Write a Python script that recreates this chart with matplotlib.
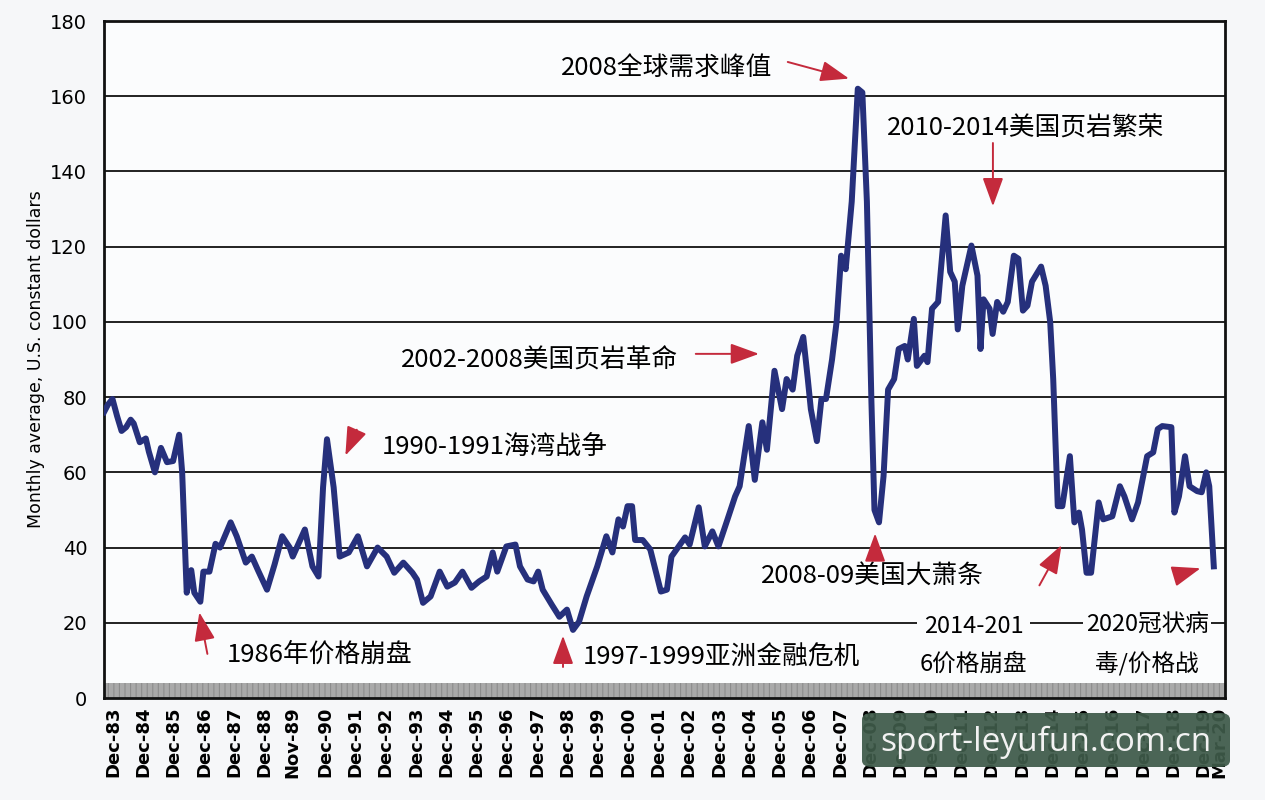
import numpy as np
import matplotlib.pyplot as plt
from matplotlib.patches import FancyBboxPatch
from matplotlib.transforms import ScaledTranslation

# monthly average oil price (fractional year, constant $)
years = [1983.62, 1983.75, 1983.90, 1984.05, 1984.20, 1984.35, 1984.50, 1984.60, 1984.80, 1985.00,
         1985.10, 1985.30, 1985.50, 1985.70, 1985.90, 1986.10, 1986.20, 1986.35, 1986.50, 1986.60,
         1986.80, 1986.90, 1987.10, 1987.30, 1987.45, 1987.80, 1988.00, 1988.30, 1988.50, 1988.70,
         1989.00, 1989.25, 1989.50, 1989.75, 1989.85, 1990.25, 1990.50, 1990.70, 1990.85, 1990.98,
         1991.20, 1991.40, 1991.70, 1992.00, 1992.30, 1992.65, 1992.95, 1993.20, 1993.50, 1993.80,
         1993.95, 1994.15, 1994.40, 1994.70, 1994.95, 1995.20, 1995.45, 1995.75, 1996.00, 1996.25,
         1996.45, 1996.60, 1996.90, 1997.20, 1997.35, 1997.60, 1997.80, 1997.95, 1998.10, 1998.40,
         1998.65, 1998.90, 1999.10, 1999.30, 1999.55, 1999.90, 2000.20, 2000.40, 2000.60, 2000.75,
         2000.90, 2001.05, 2001.15, 2001.40, 2001.65, 2002.00, 2002.20, 2002.35, 2002.80, 2002.95,
         2003.25, 2003.45, 2003.70, 2003.90, 2004.20, 2004.45, 2004.60, 2004.90, 2005.10, 2005.35,
         2005.50, 2005.75, 2006.00, 2006.15, 2006.35, 2006.50, 2006.70, 2006.85, 2006.95, 2007.15,
         2007.30, 2007.45, 2007.65, 2007.80, 2007.95, 2008.10, 2008.30, 2008.50, 2008.65, 2008.80,
         2008.95, 2009.05, 2009.20, 2009.35, 2009.50, 2009.70, 2009.85, 2010.05, 2010.15, 2010.35,
         2010.45, 2010.70, 2010.80, 2010.95, 2011.15, 2011.40, 2011.55, 2011.70, 2011.80, 2011.95,
         2012.25, 2012.45, 2012.55, 2012.65, 2012.85, 2012.95, 2013.10, 2013.30, 2013.45, 2013.65,
         2013.80, 2013.95, 2014.10, 2014.25, 2014.55, 2014.70, 2014.85, 2014.95, 2015.05, 2015.10,
         2015.25, 2015.50, 2015.65, 2015.80, 2015.90, 2016.05, 2016.20, 2016.45, 2016.60, 2016.90,
         2017.15, 2017.30, 2017.55, 2017.75, 2018.05, 2018.25, 2018.40, 2018.55, 2018.85, 2018.95,
         2019.10, 2019.30, 2019.45, 2019.70, 2019.85, 2020.00, 2020.10, 2020.25]
prices = [76, 78, 79.5, 75, 71, 72, 74, 73, 68, 69,
          65.5, 60, 66.5, 62.7, 63, 70, 60, 28, 34, 28,
          25.6, 33.6, 33.6, 41, 40, 46.7, 43, 36, 37.6, 34,
          28.8, 35.5, 43, 40, 37.6, 44.8, 35, 32.3, 56, 68.8,
          56, 37.6, 38.7, 43, 35, 40, 37.6, 33.3, 36, 33.3,
          31.5, 25.3, 27, 33.6, 29.6, 30.7, 33.6, 29.3, 31, 32.3,
          38.7, 33.6, 40.3, 40.8, 35, 31.5, 31, 33.6, 28.8, 24.8,
          21.6, 23.5, 18.1, 20.3, 27, 35, 43, 38.7, 47.5, 45.6,
          51, 51, 42, 42, 39.5, 28.3, 28.8, 37.6, 42.7, 40.8,
          50.7, 40.3, 44.3, 40.3, 47.5, 53.6, 56.3, 72.3, 58, 73.3,
          66, 87, 76.8, 84.8, 82, 91, 96, 84.8, 76.8, 68.3,
          79.5, 79.5, 90, 100, 117.6, 114, 132, 162, 161, 132,
          78.7, 50, 46.7, 59, 82, 84.8, 92.8, 93.6, 90, 100.8,
          88.3, 91, 89.3, 103.5, 105.3, 128.3, 113.3, 110.7, 98, 109.6,
          120.3, 112.3, 92.8, 106, 103.5, 96.8, 105.3, 102.7, 105.3, 117.6,
          116.8, 103, 104.3, 110.7, 114.7, 109.6, 100, 84.8, 62.7, 51,
          51, 64.3, 46.7, 49.3, 44.8, 33.3, 33.3, 52, 47.5, 48.3,
          56.3, 53.6, 47.5, 52, 64.3, 65.3, 71.5, 72.3, 72, 49.3,
          53.6, 64.3, 56.3, 55, 54.7, 60, 56.3, 35]

tick_labels = ['Dec-83', 'Dec-84', 'Dec-85', 'Dec-86', 'Dec-87', 'Dec-88', 'Nov-89', 'Dec-90',
               'Dec-91', 'Dec-92', 'Dec-93', 'Dec-94', 'Dec-95', 'Dec-96', 'Dec-97', 'Dec-98',
               'Dec-99', 'Dec-00', 'Dec-01', 'Dec-02', 'Dec-03', 'Dec-04', 'Dec-05', 'Dec-06',
               'Dec-07', 'Dec-08', 'Dec-09', 'Dec-10', 'Dec-11', 'Dec-12', 'Dec-13', 'Dec-14',
               'Dec-15', 'Dec-16', 'Dec-17', 'Dec-18', 'Dec-19', 'Mar-20']
month_num = {'Jan': 1, 'Feb': 2, 'Mar': 3, 'Nov': 11, 'Dec': 12}

# (text, text x, text y, arrow tail, arrow head)
events = [
    ('2008全球需求峰值', 2002.2, 167.5, (2006.1, 169.3), (2008.3, 164.5)),
    ('2010-2014美国页岩繁荣', 2014.05, 151.5, (2012.96, 148.3), (2012.96, 130)),
    ('2002-2008美国页岩革命', 1998.0, 89.6, (2003.06, 91.5), (2005.33, 91.5)),
    ('1990-1991海湾战争', 1996.5, 66.7, (1992.0, 72.0), (1991.55, 63.8)),
    ('1986年价格崩盘', 1990.75, 11.5, (1987.05, 11.0), (1986.75, 23.5)),
    ('1997-1999亚洲金融危机', 2004.0, 10.7, (1998.77, 7.5), (1998.77, 17.3)),
    ('2008-09美国大萧条', 2008.97, 32.5, (2009.07, 36.5), (2009.07, 44.5)),
    ('2014-201\n6价格崩盘', 2012.33, 14.0, (2014.45, 29.3), (2015.27, 41.3)),
    ('2020冠状病\n毒/价格战', 2018.05, 14.0, (2018.9, 32.3), (2019.9, 34.7)),
]

narrow = ['Liberation Sans Narrow', 'DejaVu Sans']
cjk = ['Noto Sans CJK SC', 'DejaVu Sans']
plt.rcParams['hatch.linewidth'] = 0.8

fig = plt.figure(figsize=(12.65, 8), dpi=100, facecolor='#f6f7f9')
ax = fig.add_axes([104/1265, 102/800, 1121/1265, 677/800], facecolor='#fbfcfd')

# gray band along the bottom
ax.axhspan(0, 4, facecolor='#a9a9a9', edgecolor='#8c8c8c', hatch='|||', lw=0, zorder=1)

ax.plot(years, prices, color='#26307c', lw=4.3, solid_joinstyle='round', zorder=3)

ax.set_xlim(1983.62, 2020.62)
ax.set_ylim(0, 180)
ax.set_yticks(np.arange(0, 181, 20))
ax.yaxis.grid(True, color='#111111', lw=1.3, zorder=0)
ax.set_axisbelow(True)
for s in ax.spines.values():
    s.set_color('#111111')
    s.set_linewidth(2)

tick_pos = [2000 + int(t[-2:]) - (100 if int(t[-2:]) > 50 else 0) + (month_num[t[:3]] - 1) / 12
            for t in tick_labels]
ax.set_xticks(tick_pos)
ax.set_xticklabels(tick_labels, rotation=90, family=narrow, fontsize=13, fontweight='bold')
ax.tick_params(axis='x', length=0, pad=6)
ax.tick_params(axis='y', length=0, pad=12)
for lab in ax.get_yticklabels():
    lab.set_family(narrow)
    lab.set_fontsize(14)
# last label sits a bit further right, as in the original
last = ax.get_xticklabels()[-1]
last.set_transform(last.get_transform() + ScaledTranslation(8/100, 0, fig.dpi_scale_trans))

ax.set_ylabel('Monthly average, U.S. constant dollars', family=narrow, fontsize=12.5)
ax.yaxis.set_label_coords(-0.053, 0.5)

for text, tx, ty, tail, head in events:
    if '\n' in text:
        ax.text(tx, ty, text, family=cjk, fontsize=17, ha='center', va='center',
                linespacing=1.8, zorder=4,
                bbox=dict(facecolor='#fbfcfd', edgecolor='none', pad=2))
    else:
        ax.text(tx, ty, text, family=cjk, fontsize=18.5, ha='center', va='center', zorder=4)
    ax.annotate('', xy=head, xytext=tail, zorder=5,
                arrowprops=dict(arrowstyle='-|>,head_length=1.1,head_width=0.4',
                                color='#c42a3c', lw=1.4, mutation_scale=16))

# watermark box in the lower right
fig.patches.append(FancyBboxPatch((862/1265, 33/800), 368/1265, 54/800,
                                  boxstyle='round,pad=0,rounding_size=0.008',
                                  transform=fig.transFigure, facecolor='#3e5a49',
                                  edgecolor='none', alpha=0.93, zorder=10))
fig.text(1046/1265, 58/800, 'sport-leyufun.com.cn', color='#f2f2f2', fontsize=24,
         family=['Open Sans', 'DejaVu Sans'], ha='center', va='center', zorder=11)

plt.savefig('out.png', dpi=100, facecolor=fig.get_facecolor())
